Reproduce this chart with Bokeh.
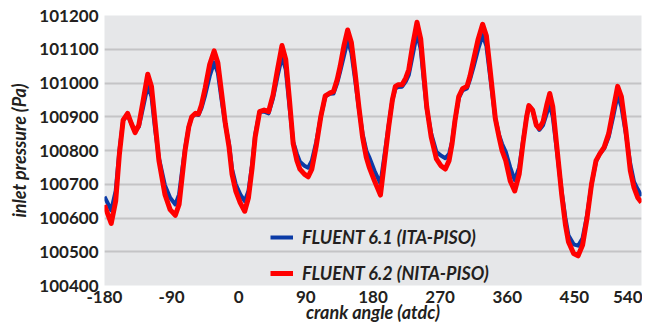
from bokeh.plotting import figure
from bokeh.models import Range1d, FixedTicker, Legend, LegendItem, NumeralTickFormatter
from bokeh.embed import file_html
from bokeh.resources import INLINE

angle = [-180, -171, -165, -160, -155, -149, -144, -139, -134, -128, -122, -117, -112, -107,
         -99, -92, -85, -80, -76, -72, -67, -63, -58, -54, -50, -45, -39, -33, -28, -23,
         -18, -13, -9, -4, 2, 8, 13, 18, 22, 28, 34, 40, 46, 52, 58, 63, 68, 73, 78, 82,
         88, 93, 98, 104, 110, 116, 122, 127, 132, 136, 141, 146, 151, 156, 161, 166, 171,
         175, 182, 190, 195, 201, 206, 210, 214, 219, 224, 228, 233, 239, 244, 248, 252,
         258, 265, 271, 277, 282, 286, 290, 295, 300, 306, 310, 315, 321, 327, 332, 337,
         344, 349, 353, 358, 364, 370, 376, 381, 386, 389, 394, 399, 403, 408, 413, 417,
         421, 427, 433, 438, 442, 449, 455, 461, 467, 473, 479, 484, 490, 496, 502, 508,
         513, 519, 525, 530, 535, 540]

fluent61 = [100663, 100623, 100680, 100800, 100890, 100905, 100880, 100856, 100870, 100930,
            100992, 100960, 100860, 100777, 100697, 100660, 100640, 100670, 100740, 100806,
            100870, 100900, 100908, 100905, 100925, 100964, 101020, 101061, 101030, 100950,
            100875, 100820, 100745, 100700, 100670, 100650, 100680, 100760, 100846, 100915,
            100915, 100910, 100955, 101020, 101078, 101040, 100930, 100826, 100790, 100767,
            100755, 100749, 100770, 100826, 100900, 100960, 100968, 100969, 101000, 101034,
            101080, 101126, 101090, 101010, 100925, 100850, 100800, 100780, 100740, 100702,
            100780, 100875, 100950, 100984, 100988, 100989, 101005, 101024, 101080, 101147,
            101100, 101010, 100925, 100850, 100796, 100785, 100777, 100790, 100826, 100890,
            100955, 100978, 100984, 101010, 101049, 101100, 101142, 101110, 101020, 100895,
            100846, 100820, 100796, 100750, 100712, 100750, 100826, 100900, 100933, 100920,
            100875, 100861, 100875, 100910, 100935, 100900, 100790, 100678, 100600, 100549,
            100522, 100518, 100540, 100608, 100700, 100767, 100790, 100806, 100840, 100900,
            100964, 100930, 100850, 100760, 100707, 100685, 100665]

fluent62 = [100638, 100584, 100650, 100790, 100890, 100910, 100880, 100853, 100875, 100950,
            101026, 100990, 100880, 100770, 100670, 100625, 100608, 100640, 100720, 100800,
            100870, 100900, 100910, 100908, 100935, 100985, 101055, 101095, 101060, 100970,
            100880, 100810, 100730, 100680, 100645, 100620, 100660, 100750, 100840, 100915,
            100920, 100915, 100965, 101040, 101111, 101070, 100950, 100820, 100770, 100745,
            100730, 100722, 100745, 100815, 100900, 100962, 100970, 100975, 101010, 101050,
            101110, 101157, 101120, 101030, 100930, 100840, 100780, 100750, 100710, 100668,
            100760, 100870, 100950, 100990, 100995, 100995, 101015, 101040, 101110, 101180,
            101130, 101030, 100930, 100840, 100775, 100755, 100745, 100770, 100820, 100890,
            100960, 100983, 100990, 101020, 101070, 101130, 101174, 101140, 101040, 100895,
            100840, 100800, 100770, 100710, 100680, 100730, 100820, 100900, 100933, 100920,
            100875, 100866, 100885, 100935, 100969, 100930, 100800, 100670, 100580, 100530,
            100495, 100488, 100520, 100600, 100700, 100770, 100790, 100810, 100850, 100920,
            100990, 100960, 100860, 100740, 100690, 100660, 100646]

x_ticks = [-180, -90, 0, 90, 180, 270, 360, 450, 540]
y_ticks = [100400, 100500, 100600, 100700, 100800, 100900, 101000, 101100, 101200]
series_names = ["FLUENT 6.1 (ITA-PISO)", "FLUENT 6.2 (NITA-PISO)"]
x_title = "crank angle (atdc)"
y_title = "inlet pressure (Pa)"

FONT = "Lato"
TXT = "#231f20"

p = figure(width=642, height=327, output_backend="svg", toolbar_location=None,
           x_range=Range1d(-180, 540), y_range=Range1d(100400, 101200),
           min_border_left=104, min_border_right=1, min_border_top=15, min_border_bottom=42)

p.background_fill_color = "#e6e7e9"
p.border_fill_color = "white"
p.outline_line_color = None

p.xgrid.grid_line_color = None
p.ygrid.grid_line_color = "#c4c4c6"
p.ygrid.grid_line_width = 2
p.ygrid.ticker = FixedTicker(ticks=y_ticks)

for ax in (p.xaxis, p.yaxis):
    ax.axis_line_color = None
    ax.major_tick_line_color = None
    ax.minor_tick_line_color = None
    ax.major_tick_out = 0
    ax.major_tick_in = 0
    ax.major_label_text_font = FONT
    ax.major_label_text_font_style = "bold"
    ax.major_label_text_font_size = "17px"
    ax.major_label_text_color = TXT
    ax.axis_label_text_font = FONT
    ax.axis_label_text_font_style = "bold italic"
    ax.axis_label_text_color = TXT
    ax.formatter = NumeralTickFormatter(format="0")

p.xaxis.ticker = FixedTicker(ticks=x_ticks)
p.yaxis.ticker = FixedTicker(ticks=y_ticks)
p.xaxis.major_label_standoff = 5
p.yaxis.major_label_standoff = 6
p.xaxis.axis_label = x_title
p.xaxis.axis_label_text_font_size = "18px"
p.xaxis.axis_label_standoff = -5
p.yaxis.axis_label = y_title
p.yaxis.axis_label_text_font_size = "18px"
p.yaxis.axis_label_standoff = 6

r1 = p.line(angle, fluent61, line_color="#0b3ba6", line_width=4, line_join="round")
r2 = p.line(angle, fluent62, line_color="#ff0000", line_width=5, line_join="round")

legend = Legend(items=[LegendItem(label=series_names[0], renderers=[r1]),
                       LegendItem(label=series_names[1], renderers=[r2])],
                location=(166, 1), orientation="vertical",
                background_fill_alpha=0, border_line_alpha=0,
                padding=0, margin=0, spacing=14,
                glyph_width=23, glyph_height=20, label_height=20,
                label_standoff=9,
                label_text_font=FONT, label_text_font_style="bold italic",
                label_text_font_size="18px", label_text_color=TXT)
p.add_layout(legend)

open("out.html", "w").write(file_html(p, INLINE))
